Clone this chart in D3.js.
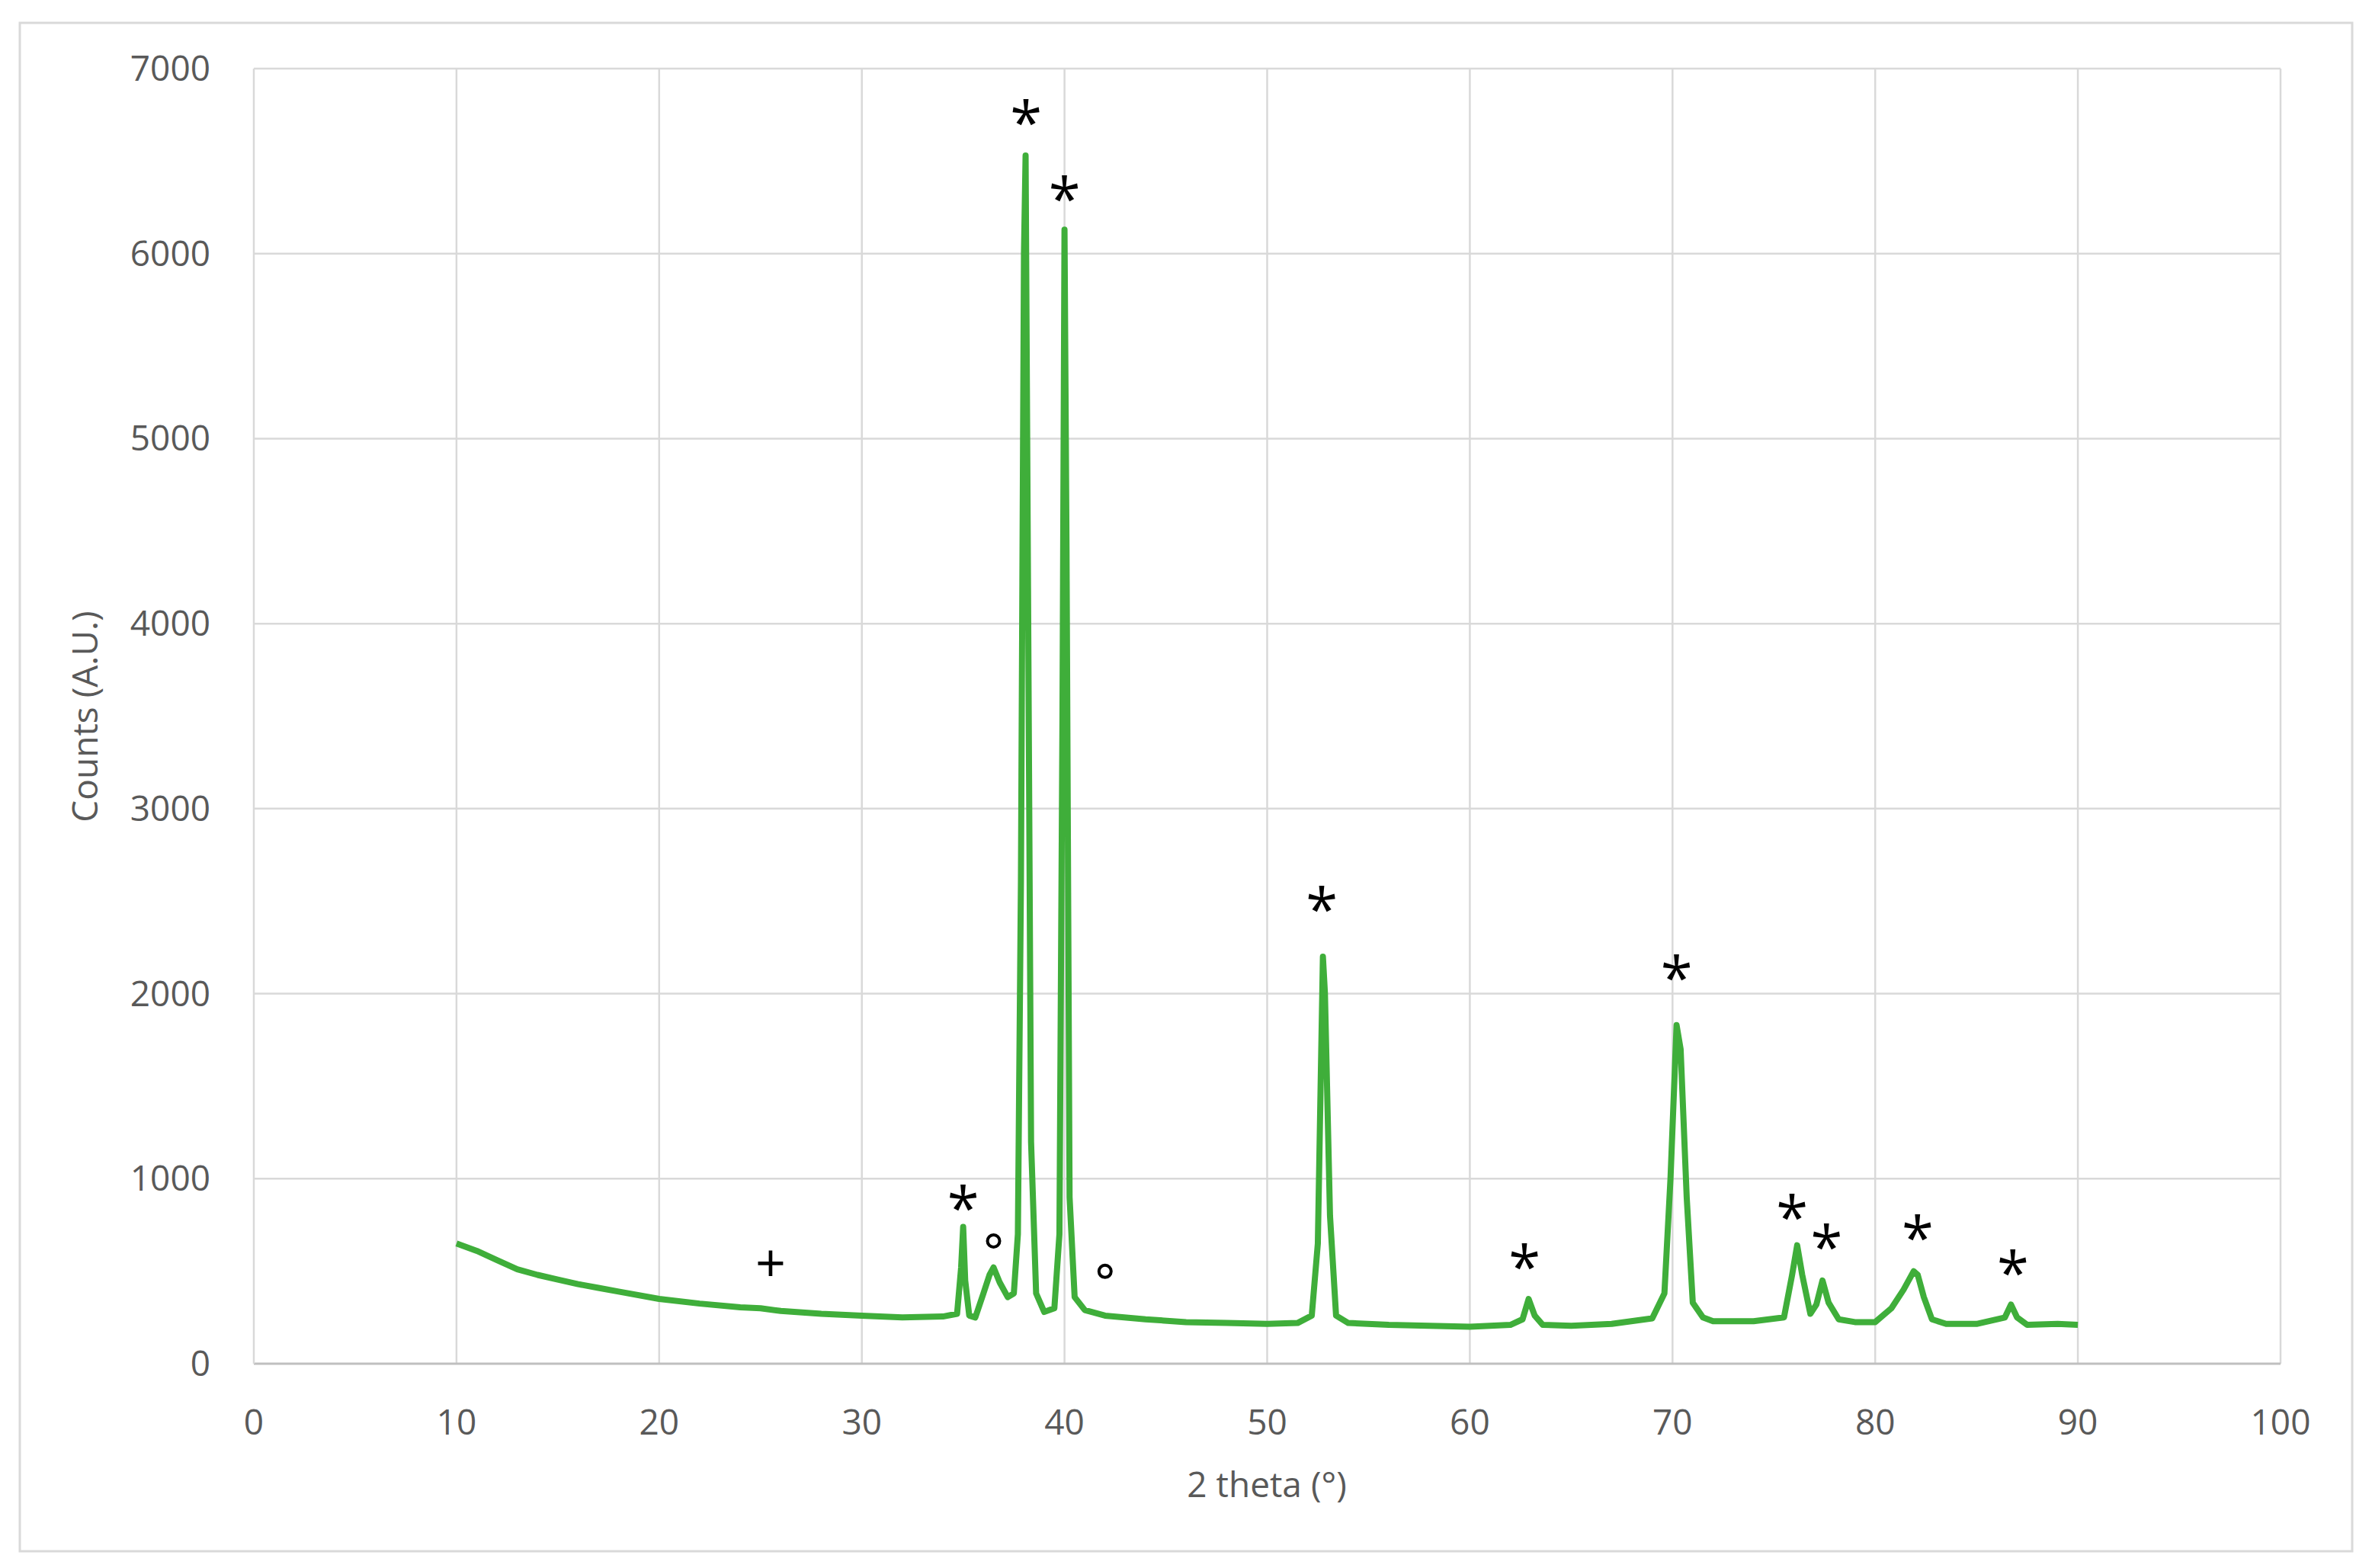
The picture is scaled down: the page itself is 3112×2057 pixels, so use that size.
<!DOCTYPE html>
<html><head><meta charset="utf-8">
<script src="https://cdn.jsdelivr.net/npm/d3@7"></script>
<style>body{margin:0;background:#fff}text{font-family:"Open Sans",Calibri,sans-serif}</style>
</head><body><svg id="c" width="3112" height="2057"></svg>
<script>
// XRD pattern
var twoTheta = [10,11,12,13,14,15,16,17,18,20,22,24,25,26,28,30,32,34,34.7,34.9,35.0,35.1,35.3,35.6,36.0,36.3,36.5,36.8,37.2,37.5,37.7,37.85,38.0,38.08,38.2,38.35,38.6,39.0,39.5,39.75,39.9,40.0,40.1,40.25,40.5,41,42,44,46,48,50,51.5,52.2,52.5,52.75,52.85,53.1,53.4,54,56,58,60,62,62.6,62.9,63.2,63.6,65,67,69,69.6,69.9,70.2,70.4,70.7,71.0,71.5,72,74,75.5,75.9,76.15,76.4,76.8,77.1,77.4,77.7,78.2,79,80,80.8,81.4,81.9,82.1,82.4,82.8,83.5,85,86.4,86.7,87.0,87.5,89,90];
var counts = [650,610,560,510,480,455,430,410,390,350,325,305,300,285,270,260,250,255,270,520,740,450,260,250,380,480,520,440,360,380,700,2600,6000,6530,4200,1200,380,280,300,700,3500,6130,4400,900,360,290,260,240,225,220,215,220,260,650,2200,2000,800,260,220,210,205,200,210,240,350,260,210,205,215,245,380,1000,1830,1700,900,330,250,230,230,250,480,640,480,270,320,450,330,240,225,225,300,400,500,480,360,240,215,215,250,320,250,210,215,210];
var yTicks = [0,1000,2000,3000,4000,5000,6000,7000];
var xTicks = [0,10,20,30,40,50,60,70,80,90,100];
var markSymbols = ['*','*','*','*','*','*','*','*','*','*','o','o','+'];
var markX = [38.1,40.0,35.0,52.7,62.7,70.2,75.9,77.6,82.1,86.8,36.5,42.0,25.5];
var markY = [6714,6305,850,2462,530,2094,801,638,687,499,622,458,499];

var svg = d3.select('#c');
var m = {l:333, r:2992, t:90, b:1789};
var x = d3.scaleLinear().domain([0,100]).range([m.l,m.r]);
var y = d3.scaleLinear().domain([0,7000]).range([m.b,m.t]);

svg.append('rect').attr('x',26).attr('y',30).attr('width',3060).attr('height',2005)
  .attr('fill','#fff').attr('stroke','#d9d9d9').attr('stroke-width',3);

svg.append('g').selectAll('line').data(yTicks.slice(1)).join('line')
  .attr('x1',m.l).attr('x2',m.r).attr('y1',d=>y(d)).attr('y2',d=>y(d))
  .attr('stroke','#d9d9d9').attr('stroke-width',2.5);
svg.append('g').selectAll('line').data(xTicks.slice(1)).join('line')
  .attr('y1',m.t).attr('y2',m.b).attr('x1',d=>x(d)).attr('x2',d=>x(d))
  .attr('stroke','#d9d9d9').attr('stroke-width',2.5);
svg.append('line').attr('x1',m.l).attr('x2',m.r).attr('y1',m.b).attr('y2',m.b)
  .attr('stroke','#bfbfbf').attr('stroke-width',3);
svg.append('line').attr('x1',m.l).attr('x2',m.l).attr('y1',m.t).attr('y2',m.b)
  .attr('stroke','#d9d9d9').attr('stroke-width',2.5);

svg.append('g').selectAll('text').data(yTicks).join('text')
  .attr('x',276).attr('y',d=>y(d)+16).attr('text-anchor','end')
  .attr('font-size',46).attr('fill','#595959').text(d=>d);
svg.append('g').selectAll('text').data(xTicks).join('text')
  .attr('x',d=>x(d)).attr('y',1882).attr('text-anchor','middle')
  .attr('font-size',46).attr('fill','#595959').text(d=>d);

svg.append('text').attr('x',1662).attr('y',1964).attr('text-anchor','middle')
  .attr('font-size',46).attr('fill','#595959').text('2 theta (\u00b0)');
svg.append('text').attr('transform','translate(128,940) rotate(-90)').attr('text-anchor','middle')
  .attr('font-size',46).attr('fill','#595959').text('Counts (A.U.)');

var pts = twoTheta.map((t,i)=>[t,counts[i]]);
svg.append('path').datum(pts)
  .attr('d',d3.line().x(d=>x(d[0])).y(d=>y(d[1])))
  .attr('fill','none').attr('stroke','#3fae3a').attr('stroke-width',8).attr('stroke-linejoin','round');

var marks = svg.append('g');
markSymbols.forEach(function(s,i){
  var cx = x(markX[i]), cy = y(markY[i]);
  if (s == 'o') {
    marks.append('circle').attr('cx',cx).attr('cy',cy-10).attr('r',8)
      .attr('fill','none').attr('stroke','#000').attr('stroke-width',4);
  } else {
    marks.append('text').attr('x',cx).attr('y',cy+(s=='*'?30:14))
      .attr('text-anchor','middle').attr('font-family','DejaVu Sans')
      .attr('font-size',s=='*'?76:70).attr('fill','#000').text(s);
  }
});
</script></body></html>
